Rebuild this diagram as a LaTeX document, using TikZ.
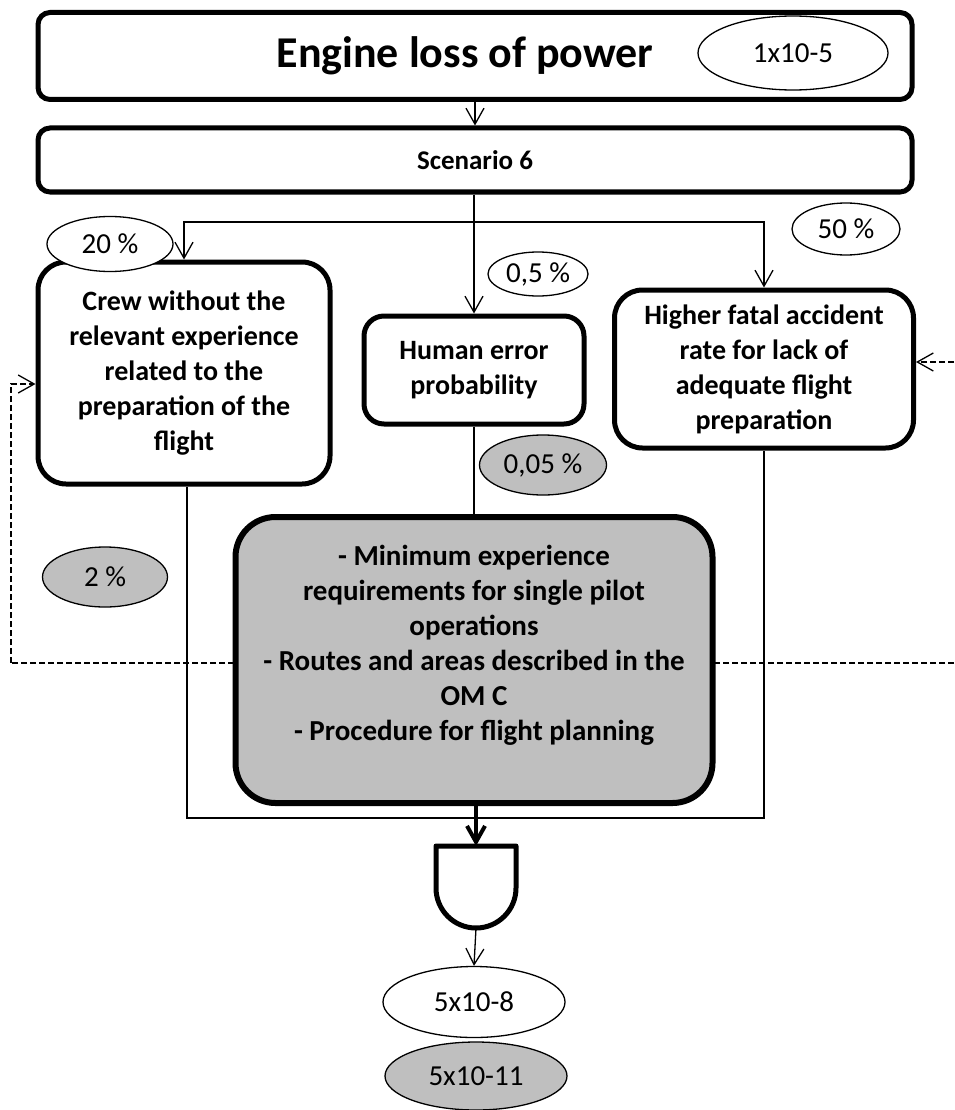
\documentclass[tikz,border=0pt]{standalone}
\usepackage{fontspec}
\setmainfont{Carlito}
\usetikzlibrary{shapes.geometric, arrows.meta, positioning, calc}
\definecolor{barriergrey}{HTML}{BFBFBF}

\begin{document}
\begin{tikzpicture}[x=1pt, y=-1pt,
  event/.style={rectangle, draw, line width=5pt, fill=white,
    rounded corners=12pt, align=center, inner sep=0pt,
    font=\bfseries\fontsize{28}{35}\selectfont},
  prob/.style={ellipse, draw, line width=1.3pt, fill=white,
    inner sep=0pt, font=\fontsize{29}{34}\selectfont},
  probgrey/.style={prob, fill=barriergrey},
  arrow/.style={-{Straight Barb[length=16pt, width=18pt]}, line width=1.3pt},
  link/.style={line width=1.3pt},
  dashlink/.style={line width=1.3pt, dash pattern=on 6pt off 3pt}
]
  \useasboundingbox (0,0) rectangle (954,1110);

  % dashed feedback loop (behind the barrier box)
  \coordinate (dashleft)  at (11,663);
  \coordinate (dashright) at (954,663);
  \coordinate (dashin)    at (954,362);
  \draw[dashlink] (dashright) -- (dashleft);

  % top event and scenario
  \node[event, minimum width=874pt, minimum height=87pt] (top) at (475,56)
    {\fontsize{44}{52}\selectfont Engine loss of power\hspace*{20pt}};
  \node[prob, minimum width=190pt, minimum height=74pt] (ptop) at (793,53) {1x10-5};
  \node[event, minimum width=874pt, minimum height=64pt] (scen) at (475,160)
    {\fontsize{27}{33}\selectfont Scenario 6};

  % contributing events
  \node[event, rounded corners=28pt, minimum width=292pt, minimum height=222pt] (crew) at (184,373)
    {Crew without the\\relevant experience\\related to the\\preparation of the\\flight};
  \node[event, rounded corners=20pt, minimum width=220pt, minimum height=108pt] (human) at (474,370)
    {Human error\\probability};
  \node[event, rounded corners=28pt, minimum width=299pt, minimum height=158pt] (rate) at (764,369)
    {Higher fatal accident\\rate for lack of\\adequate flight\\preparation};

  % barrier
  \node[event, fill=barriergrey, rounded corners=40pt, line width=6pt,
    minimum width=477pt, minimum height=286pt,
    font=\bfseries\fontsize{29}{35}\selectfont] (barrier) at (474,660)
    {- Minimum experience\\requirements for single pilot\\operations\\- Routes and areas described in the\\OM C\\- Procedure for flight planning\\ \mbox{}};

  % probabilities
  \node[prob, minimum width=126pt, minimum height=55pt] (p20) at (110,244) {20 \%};
  \node[prob, minimum width=100pt, minimum height=44pt] (p05) at (538,274) {0,5 \%};
  \node[prob, minimum width=108pt, minimum height=52pt] (p50) at (846,229) {50 \%};
  \node[probgrey, minimum width=127pt, minimum height=60pt] (p005) at (543,465) {0,05 \%};
  \node[probgrey, minimum width=125pt, minimum height=60pt] (p2) at (105,577) {2 \%};
  \node[prob, minimum width=182pt, minimum height=71pt] (res) at (474,1002) {5x10-8};
  \node[probgrey, minimum width=182pt, minimum height=68pt] (resgrey) at (476,1076) {5x10-11};

  % AND gate
  \coordinate (gtop) at (476,846);
  \coordinate (gbot) at (476,928);
  \coordinate (split) at (474,222);
  \coordinate (merge) at (476,818);
  \draw[line width=5pt, fill=white, line join=round] (gtop) ++(-40,0) -- ++(80,0) -- ++(0,42)
    arc[start angle=0, end angle=180, radius=40] -- cycle;

  % connectors
  \draw[arrow] (top.south) -- (scen.north);
  \draw[link] (split |- scen.south) -- (split);
  \draw[arrow] (split) -| (crew.north);
  \draw[arrow] (split) -| (rate.north);
  \draw[arrow] (split) -- (human.north);
  \draw[link] (human.south) -- (barrier.north);
  \draw[link] ([xshift=3pt]crew.south) |- (merge) -| (rate.south);
  \draw[arrow, line width=4pt] (barrier.south -| gtop) -- (gtop);
  \draw[arrow] (gbot) -- (res.north);
  \draw[dashlink, -{Straight Barb[length=16pt, width=18pt]}] (dashleft) |- ([yshift=-11pt]crew.west);
  \draw[dashlink, -{Straight Barb[length=16pt, width=18pt]}] (dashin) -- (dashin -| rate.east);
\end{tikzpicture}
\end{document}
